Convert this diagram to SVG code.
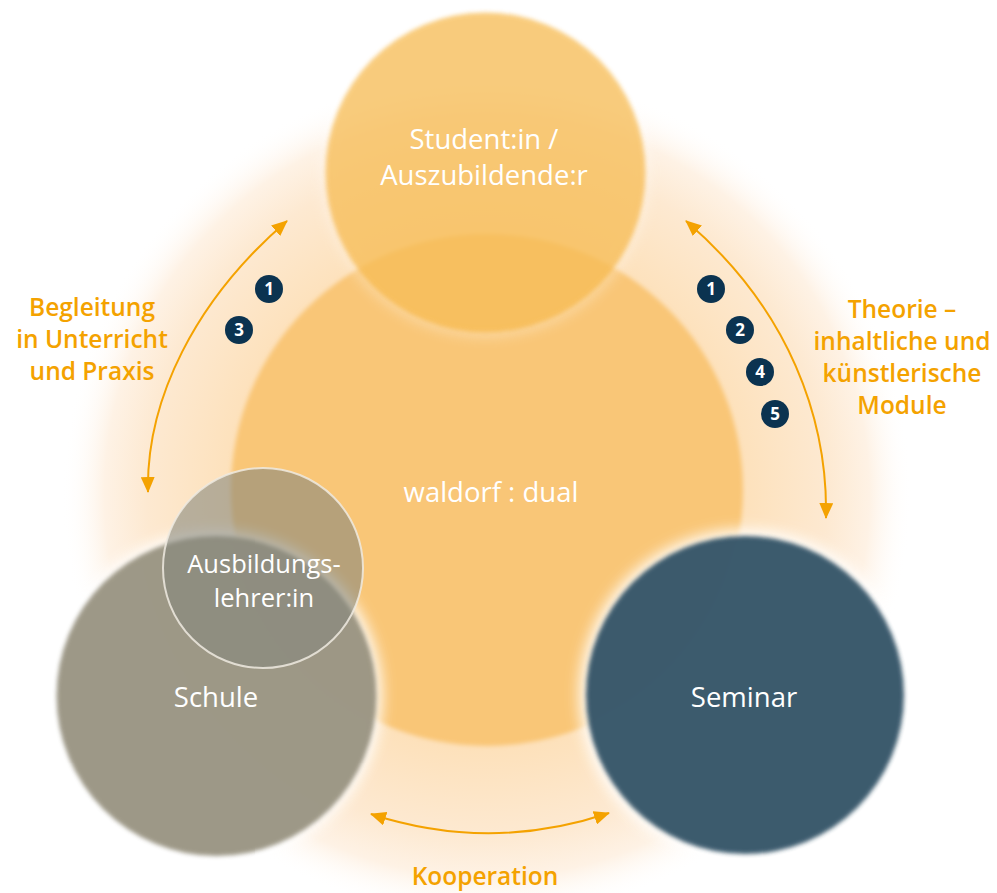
<svg xmlns="http://www.w3.org/2000/svg" width="997" height="893" viewBox="0 0 997 893">
<defs>
<radialGradient id="glow" cx="487" cy="495" r="425" gradientUnits="userSpaceOnUse">
<stop offset="0" stop-color="#fcd9a6"/>
<stop offset="0.6" stop-color="#fde1bb"/>
<stop offset="0.8" stop-color="#fde9d1"/>
<stop offset="0.9" stop-color="#fef2e5"/>
<stop offset="1" stop-color="#ffffff" stop-opacity="0"/>
</radialGradient>
<filter id="soft" x="-10%" y="-10%" width="120%" height="120%"><feGaussianBlur stdDeviation="2"/></filter>
<filter id="halo" x="-20%" y="-20%" width="140%" height="140%"><feGaussianBlur stdDeviation="7"/></filter>
<marker id="ah" viewBox="0 0 16 14" refX="15" refY="7" markerWidth="16" markerHeight="14" markerUnits="userSpaceOnUse" orient="auto-start-reverse">
<path d="M0,0 L16,7 L0,14 Z" fill="#f4a200"/>
</marker>
<style>
.wt{font-family:"Open Sans","Noto Sans","Liberation Sans",sans-serif;fill:#ffffff;text-anchor:middle;font-size:27.5px}
.ot{font-family:"Open Sans","Noto Sans","Liberation Sans",sans-serif;fill:#f4a200;text-anchor:middle;font-size:24.5px;font-weight:600}
.conn{fill:none;stroke:#f4a200;stroke-width:2;marker-start:url(#ah);marker-end:url(#ah)}
.badge circle{fill:#0b3350}
.badge text{font-family:"Open Sans","Noto Sans","Liberation Sans",sans-serif;fill:#ffffff;text-anchor:middle;font-size:17px;font-weight:700}
</style>
</defs>
<rect width="997" height="893" fill="#ffffff"/>
<circle cx="487" cy="495" r="425" fill="url(#glow)"/>

<g id="waldorf-dual">
<circle cx="487" cy="490" r="256" fill="#f9c677" filter="url(#soft)"/>
<text class="wt" x="491" y="502">waldorf : dual</text>
</g>

<g id="student">
<circle cx="485.5" cy="172.5" r="164" fill="#ffffff" opacity="0.35" filter="url(#halo)"/>
<circle cx="485.5" cy="172.5" r="160" fill="#f6b33c" opacity="0.67" filter="url(#soft)"/>
<text class="wt" x="484" y="149">Student:in /</text>
<text class="wt" x="484" y="185">Auszubildende:r</text>
</g>

<g id="schule">
<circle cx="216.5" cy="696" r="166" fill="#ffffff" opacity="0.9" filter="url(#halo)"/>
<circle cx="216.5" cy="696" r="160" fill="#8b8571" opacity="0.84" filter="url(#soft)"/>
<text class="wt" x="216" y="707">Schule</text>
</g>

<g id="seminar">
<circle cx="745" cy="695" r="166" fill="#ffffff" opacity="0.9" filter="url(#halo)"/>
<circle cx="745" cy="695" r="159" fill="#2e5064" opacity="0.93" filter="url(#soft)"/>
<text class="wt" x="744" y="707">Seminar</text>
</g>

<g id="ausbildungslehrer">
<circle cx="263" cy="568" r="100" fill="#85877c" opacity="0.58"/>
<circle cx="263" cy="568" r="100" fill="none" stroke="#eeeae0" stroke-width="2" opacity="0.85"/>
<text class="wt" x="264" y="573" style="font-size:25.5px">Ausbildungs-</text>
<text class="wt" x="264" y="607" style="font-size:25.5px">lehrer:in</text>
</g>

<g id="connectors">
<path class="conn" d="M148,492 C146,400 195,300 287,221"/>
<path class="conn" d="M686,221 C790,310 828,420 826,518"/>
<path class="conn" d="M371,814 Q490,853 609,813"/>
</g>

<g id="labels">
<text class="ot" x="92" y="316">Begleitung</text>
<text class="ot" x="92" y="348">in Unterricht</text>
<text class="ot" x="92" y="380">und Praxis</text>
<text class="ot" x="902" y="318">Theorie –</text>
<text class="ot" x="902" y="350">inhaltliche und</text>
<text class="ot" x="902" y="382">künstlerische</text>
<text class="ot" x="902" y="414">Module</text>
<text class="ot" x="485" y="885">Kooperation</text>
</g>

<g id="badges" class="badge">
<g id="b-l1"><circle cx="269" cy="289" r="14"/><text x="269" y="295">1</text></g>
<g id="b-l3"><circle cx="239" cy="330" r="14"/><text x="239" y="336">3</text></g>
<g id="b-r1"><circle cx="711" cy="289" r="14"/><text x="711" y="295">1</text></g>
<g id="b-r2"><circle cx="740" cy="330" r="14"/><text x="740" y="336">2</text></g>
<g id="b-r4"><circle cx="760" cy="372" r="14"/><text x="760" y="378">4</text></g>
<g id="b-r5"><circle cx="775" cy="414" r="14"/><text x="775" y="420">5</text></g>
</g>
</svg>
